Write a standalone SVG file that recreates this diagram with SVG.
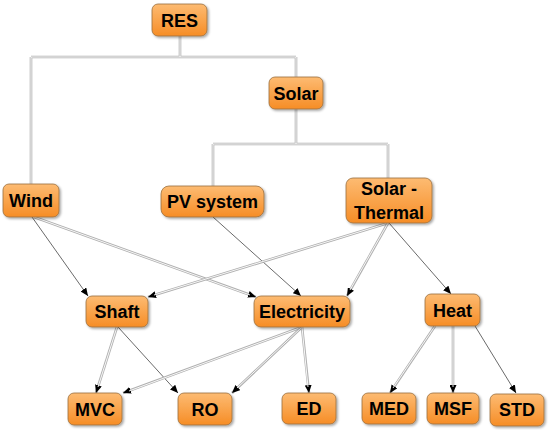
<svg xmlns="http://www.w3.org/2000/svg" width="550" height="430" viewBox="0 0 550 430">
<style>
.box{fill:url(#og);stroke:#9a7040;stroke-width:0.8;filter:url(#sh)}
.lbl{font-family:"Liberation Sans",Arial,sans-serif;font-weight:bold;font-size:18px;fill:#000;text-anchor:middle}
.dbo{fill:none;stroke:#b0b0b0;stroke-width:2.6}
.dbi{fill:none;stroke:#fff;stroke-width:0.9}
.sgl{fill:none;stroke:#444;stroke-width:0.8}
</style>
<defs>
<linearGradient id="og" x1="0" y1="0" x2="0" y2="1">
<stop offset="0" stop-color="#fdbb72"/>
<stop offset="1" stop-color="#f68d26"/>
</linearGradient>
<filter id="sh" x="-20%" y="-20%" width="150%" height="160%">
<feDropShadow dx="1.5" dy="1.5" stdDeviation="1" flood-color="#000" flood-opacity="0.35"/>
</filter>
<marker id="ar" markerUnits="userSpaceOnUse" markerWidth="8" markerHeight="7" refX="8" refY="3.5" orient="auto">
<path d="M0,0 L8,3.5 L0,7 z" fill="#000"/>
</marker>
</defs>
<rect width="550" height="430" fill="#fff"/>
<g id="connectors">
<path class="dbo" d="M180,36 V57 M31,57 H296 M31,57 V184 M296,57 V77 M296,109 V144 M213,144 H388 M213,144 V186 M388,144 V178"/>
<path class="dbi" d="M180,36 V57 M31,57 H296 M31,57 V184 M296,57 V77 M296,109 V144 M213,144 H388 M213,144 V186 M388,144 V178"/>
<path class="sgl" d="M32,217 L88,296" marker-end="url(#ar)"/>
<path class="dbo" d="M34,217 L256,297" marker-end="url(#ar)"/>
<path class="dbi" d="M34,217 L250,295"/>
<path class="sgl" d="M213,217 L301,296" marker-end="url(#ar)"/>
<path class="dbo" d="M388,223 L148,297" marker-end="url(#ar)"/>
<path class="dbi" d="M388,223 L154,295"/>
<path class="dbo" d="M388,223 L347,296" marker-end="url(#ar)"/>
<path class="dbi" d="M388,223 L350,290"/>
<path class="sgl" d="M389,223 L451,294" marker-end="url(#ar)"/>
<path class="dbo" d="M117,327 L96,393" marker-end="url(#ar)"/>
<path class="dbi" d="M117,327 L98,387"/>
<path class="sgl" d="M118,327 L178,393" marker-end="url(#ar)"/>
<path class="dbo" d="M302,327 L123,393" marker-end="url(#ar)"/>
<path class="dbi" d="M302,327 L129,391"/>
<path class="dbo" d="M302,327 L232,393" marker-end="url(#ar)"/>
<path class="dbi" d="M302,327 L237,388"/>
<path class="dbo" d="M302,327 L309,393" marker-end="url(#ar)"/>
<path class="dbi" d="M302,327 L308,387"/>
<path class="dbo" d="M435,326 L390,393" marker-end="url(#ar)"/>
<path class="dbi" d="M435,326 L393,388"/>
<path class="dbo" d="M453,326 L453,393" marker-end="url(#ar)"/>
<path class="dbi" d="M453,326 L453,387"/>
<path class="sgl" d="M475,326 L516,393" marker-end="url(#ar)"/>
</g>
<g id="res"><rect class="box" x="152" y="4" width="55" height="32" rx="6"/><text class="lbl" x="179.5" y="26.5">RES</text></g>
<g id="solar"><rect class="box" x="269" y="77" width="54" height="32" rx="6"/><text class="lbl" x="296" y="99.5">Solar</text></g>
<g id="wind"><rect class="box" x="3" y="184" width="56" height="33" rx="6"/><text class="lbl" x="31" y="207">Wind</text></g>
<g id="pv"><rect class="box" x="161" y="186" width="103" height="31" rx="8"/><text class="lbl" x="212.5" y="208">PV system</text></g>
<g id="solarthermal"><rect class="box" x="346" y="178" width="86" height="45" rx="7"/><text class="lbl" x="389" y="195">Solar -</text><text class="lbl" x="389" y="219">Thermal</text></g>
<g id="shaft"><rect class="box" x="86" y="296" width="62" height="31" rx="6"/><text class="lbl" x="117" y="318">Shaft</text></g>
<g id="electricity"><rect class="box" x="254" y="296" width="96" height="31" rx="7"/><text class="lbl" x="302" y="318">Electricity</text></g>
<g id="heat"><rect class="box" x="425" y="294" width="55" height="32" rx="6"/><text class="lbl" x="452.5" y="317">Heat</text></g>
<g id="mvc"><rect class="box" x="68" y="393" width="54" height="32" rx="6"/><text class="lbl" x="95" y="416">MVC</text></g>
<g id="ro"><rect class="box" x="178" y="393" width="54" height="32" rx="6"/><text class="lbl" x="205" y="416">RO</text></g>
<g id="ed"><rect class="box" x="282" y="393" width="54" height="31" rx="6"/><text class="lbl" x="309" y="415">ED</text></g>
<g id="med"><rect class="box" x="362" y="393" width="54" height="31" rx="6"/><text class="lbl" x="389" y="415">MED</text></g>
<g id="msf"><rect class="box" x="427" y="393" width="52" height="31" rx="6"/><text class="lbl" x="453" y="415">MSF</text></g>
<g id="std"><rect class="box" x="490" y="394" width="54" height="32" rx="6"/><text class="lbl" x="517" y="416">STD</text></g>
</svg>
